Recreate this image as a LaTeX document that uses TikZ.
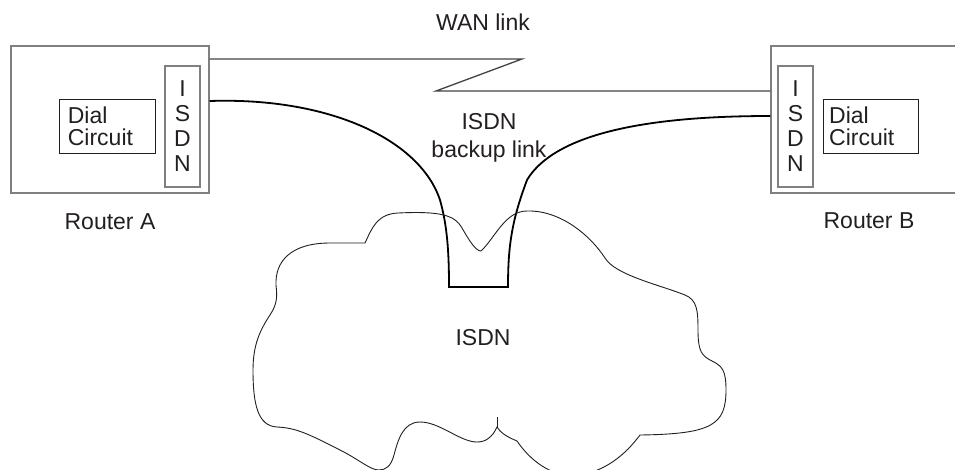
\documentclass[tikz,border=0pt]{standalone}
\usepackage{fontspec}
\setmainfont{Liberation Sans}
\usepackage{tikz}
\usetikzlibrary{positioning}
\definecolor{ink}{HTML}{231F20}
\definecolor{boxgray}{HTML}{808080}

\begin{document}
\begin{tikzpicture}[x=1pt,y=-1pt,
    every node/.style={font=\fontsize{23}{25}\selectfont,text=ink},
    router/.style={draw=boxgray,line width=1.3pt,minimum height=147pt,inner sep=0pt},
    isdnbox/.style={draw=boxgray,line width=1.2pt,minimum width=35pt,minimum height=121pt,
      inner sep=0pt,align=center},
    dialbox/.style={draw=ink,line width=1.2pt,minimum height=54pt,text width=80pt,
      inner xsep=8pt,inner ysep=0pt,align=left,font=\fontsize{23}{22}\selectfont},
    lbl/.style={inner sep=0pt,align=center},
    wan/.style={draw=ink!85,line width=1.3pt},
    backup/.style={draw=black,line width=1.8pt},
    cloud/.style={draw=ink,line width=0.9pt}]
 \useasboundingbox (0,0) rectangle (955,469);
 \node[router,minimum width=198pt] (routerA) at (110,119.5) {};
 \node[router,minimum width=194pt] (routerB) at (868,119.5) {};
 \node[isdnbox,below left=20pt and 9pt of routerA.north east] (isdnA) {I\\S\\D\\N};
 \node[isdnbox,below right=20pt and 7pt of routerB.north west] (isdnB) {I\\S\\D\\N};
 \node[dialbox,left=8pt of isdnA] (dialA) {Dial\\Circuit};
 \node[dialbox,right=9pt of isdnB,text width=83pt,inner xsep=6pt] (dialB) {Dial\\Circuit};
 \node[lbl,below=20pt of routerA] (nameA) {Router A};
 \node[lbl] (nameB) at (869,221) {Router B};
 \node[lbl] (wanlbl) at (483,22) {WAN link};
 \node[lbl,font=\fontsize{23}{28}\selectfont] (backuplbl) at (489,138) {ISDN\\backup link};
 \coordinate (dipL) at (449,287);
 \coordinate (dipR) at (508,287);
 \draw[wan] (routerA.east |- 0,59) -- (522,59) -- (436,91) -- (routerB.west |- 0,91);
 \draw[backup] (routerA.east |- 0,101) .. controls (330,97) and (420,140) .. (440,200)
   .. controls (447,225) and (449,250) .. (dipL) -- (dipR)
   .. controls (508,245) and (512,220) .. (527,180)
   .. controls (560,125) and (680,116) .. (routerB.west |- 0,116);
 \draw[cloud] (365,243) .. controls (372,228) and (377,214) .. (398,213)
   .. controls (440,211) and (455,215) .. (462,228)
   .. controls (470,242) and (476,251) .. (481,251)
   .. controls (495,238) and (505,211) .. (527,211)
   .. controls (560,210) and (590,235) .. (605,258)
   .. controls (615,275) and (660,285) .. (685,295)
   .. controls (697,300) and (698,310) .. (698,330)
   .. controls (698,352) and (702,356) .. (712,361)
   .. controls (722,366) and (726,370) .. (726,390)
   .. controls (726,425) and (712,434) .. (640,435)
   .. controls (625,455) and (605,472) .. (575,476)
   .. controls (550,476) and (530,460) .. (517,441)
   .. controls (505,436) and (500,432) .. (497,427)
   .. controls (492,438) and (485,442) .. (477,442)
   .. controls (460,442) and (440,422) .. (420,422)
   .. controls (403,422) and (398,440) .. (394,455)
   .. controls (391,466) and (386,470) .. (379,470)
   .. controls (370,470) and (360,460) .. (340,450)
   .. controls (305,432) and (295,428) .. (277,427)
   .. controls (258,426) and (253,405) .. (253,370)
   .. controls (253,345) and (260,330) .. (270,315)
   .. controls (278,303) and (277,295) .. (276,285)
   .. controls (275,262) and (290,243) .. (330,243) -- cycle;
 \draw[cloud] (497,427) -- (497,417);
 \node[lbl] (isdnlbl) at (483,338) {ISDN};
\end{tikzpicture}
\end{document}
